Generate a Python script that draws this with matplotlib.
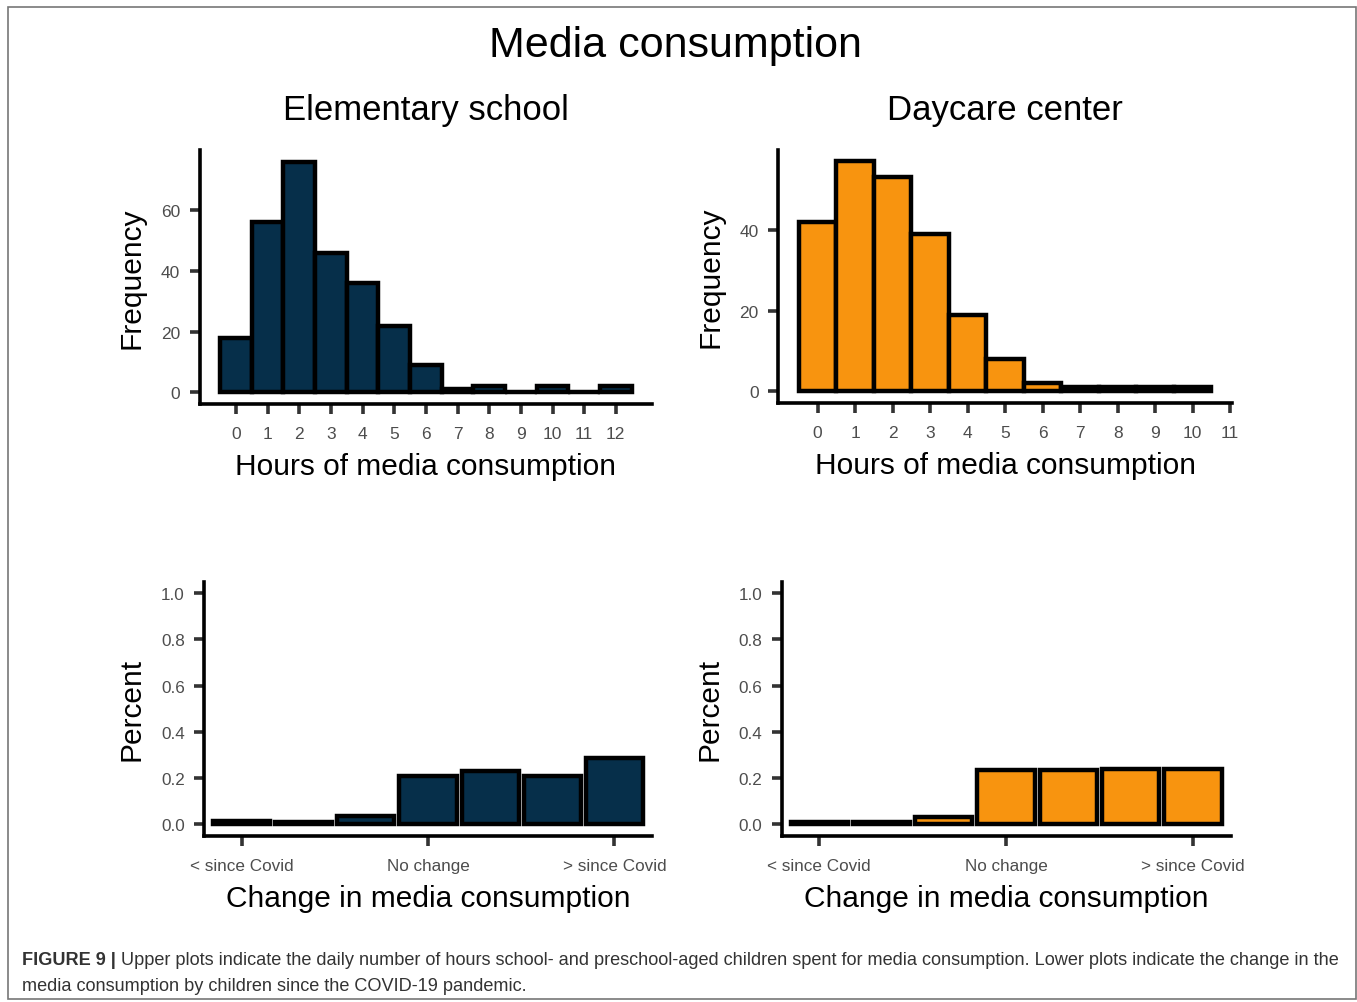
import numpy as np
import matplotlib
matplotlib.use("Agg")
import matplotlib.pyplot as plt
from matplotlib.patches import Rectangle

# ---- data ----
hours_school = list(range(13))
freq_school = [18, 56, 76, 46, 36, 22, 9, 1, 2, 0, 2, 0, 2]

hours_daycare = list(range(11))
freq_daycare = [42, 57, 53, 39, 19, 8, 2, 1, 1, 1, 1]

change_levels = [1, 2, 3, 4, 5, 6, 7]
change_ticks = [1, 4, 7]
change_ticklabels = ["< since Covid", "No change", "> since Covid"]
pct_school = [0.015, 0.01, 0.035, 0.21, 0.23, 0.21, 0.285]
pct_daycare = [0.008, 0.01, 0.03, 0.235, 0.235, 0.24, 0.24]

NAVY = "#062f4a"
ORANGE = "#f8940f"
W, H = 1357, 1003

plt.rcParams.update({
    "font.family": ["Liberation Sans", "DejaVu Sans"],
    "axes.linewidth": 2.6,
})

fig = plt.figure(figsize=(W / 100, H / 100), dpi=100)


def px_axes(left, top, right, bottom):
    """Axes placed by pixel edges measured on the reference."""
    return fig.add_axes([left / W, 1 - bottom / H,
                         (right - left) / W, (bottom - top) / H])


def style(ax, tick_size):
    for s in ("top", "right"):
        ax.spines[s].set_visible(False)
    for s in ("left", "bottom"):
        ax.spines[s].set_color("black")
        ax.spines[s].set_capstyle("projecting")
    ax.tick_params(length=7, width=2.6, color="#333333",
                   labelcolor="#4d4d4d", labelsize=tick_size)
    ax.tick_params(axis="x", pad=9)
    ax.tick_params(axis="y", pad=7)


def hist_panel(ax, x, y, color, xmax):
    ax.bar(x, y, width=1.0, color=color, edgecolor="black", linewidth=3.2)
    ax.set_xlim(-0.5 - 0.05 * (xmax + 1), xmax + 0.5 + 0.05 * (xmax + 1))
    ymax = max(y)
    ax.set_ylim(-0.05 * ymax, 1.05 * ymax)
    ax.set_xticks(range(0, len(x) if xmax == 12 else xmax + 2))
    ax.yaxis.set_major_locator(matplotlib.ticker.MultipleLocator(20))
    style(ax, 12.5)
    ax.set_xlabel("Hours of media consumption", fontsize=21.5, labelpad=8)
    ax.set_ylabel("Frequency", fontsize=21.5, labelpad=11)


def change_panel(ax, y, color):
    ax.bar(change_levels, y, width=0.92, color=color, edgecolor="black",
           linewidth=3.2)
    ax.set_xlim(0.4, 7.6)
    ax.set_ylim(-0.05, 1.05)
    ax.set_xticks(change_ticks)
    ax.set_xticklabels(change_ticklabels)
    ax.set_yticks(np.arange(0, 1.01, 0.2))
    ax.yaxis.set_major_formatter(matplotlib.ticker.FormatStrFormatter("%.1f"))
    style(ax, 12.3)
    ax.set_xlabel("Change in media consumption", fontsize=21.5, labelpad=8)
    ax.set_ylabel("Percent", fontsize=21.5, labelpad=11)


ax1 = px_axes(199.6, 151.1, 652.2, 404.8)
hist_panel(ax1, hours_school, freq_school, NAVY, 12)
ax2 = px_axes(778.3, 150.8, 1232.0, 403.8)
hist_panel(ax2, hours_daycare, freq_daycare, ORANGE, 10)
ax3 = px_axes(204.4, 582.8, 651.6, 836.5)
change_panel(ax3, pct_school, NAVY)
ax4 = px_axes(781.8, 582.8, 1230.5, 836.5)
change_panel(ax4, pct_daycare, ORANGE)

fig.text(675 / W, 1 - 57 / H, "Media consumption", fontsize=31,
         ha="center", va="baseline")
fig.text(426 / W, 1 - 120 / H, "Elementary school", fontsize=25,
         ha="center", va="baseline")
fig.text(1005 / W, 1 - 120 / H, "Daycare center", fontsize=25,
         ha="center", va="baseline")

# caption: bold lead-in, then regular text
cap = fig.text(22 / W, 1 - 965 / H, "FIGURE 9 |", fontsize=13.1,
               weight="bold", color="#333333", va="baseline")
renderer = fig.canvas.get_renderer()
bb = cap.get_window_extent(renderer)
fig.text((bb.x1 + 5) / W, 1 - 965 / H,
         "Upper plots indicate the daily number of hours school- and "
         "preschool-aged children spent for media consumption. Lower plots "
         "indicate the change in the",
         fontsize=13.1, color="#333333", va="baseline")
fig.text(22 / W, 1 - 991 / H,
         "media consumption by children since the COVID-19 pandemic.",
         fontsize=13.1, color="#333333", va="baseline")

fig.patches.append(Rectangle((7.5 / W, 1 - 1000 / H), 1348 / W, 992 / H,
                             transform=fig.transFigure, fill=False,
                             edgecolor="#777777", linewidth=1.2))

fig.savefig("out.png", dpi=100)
